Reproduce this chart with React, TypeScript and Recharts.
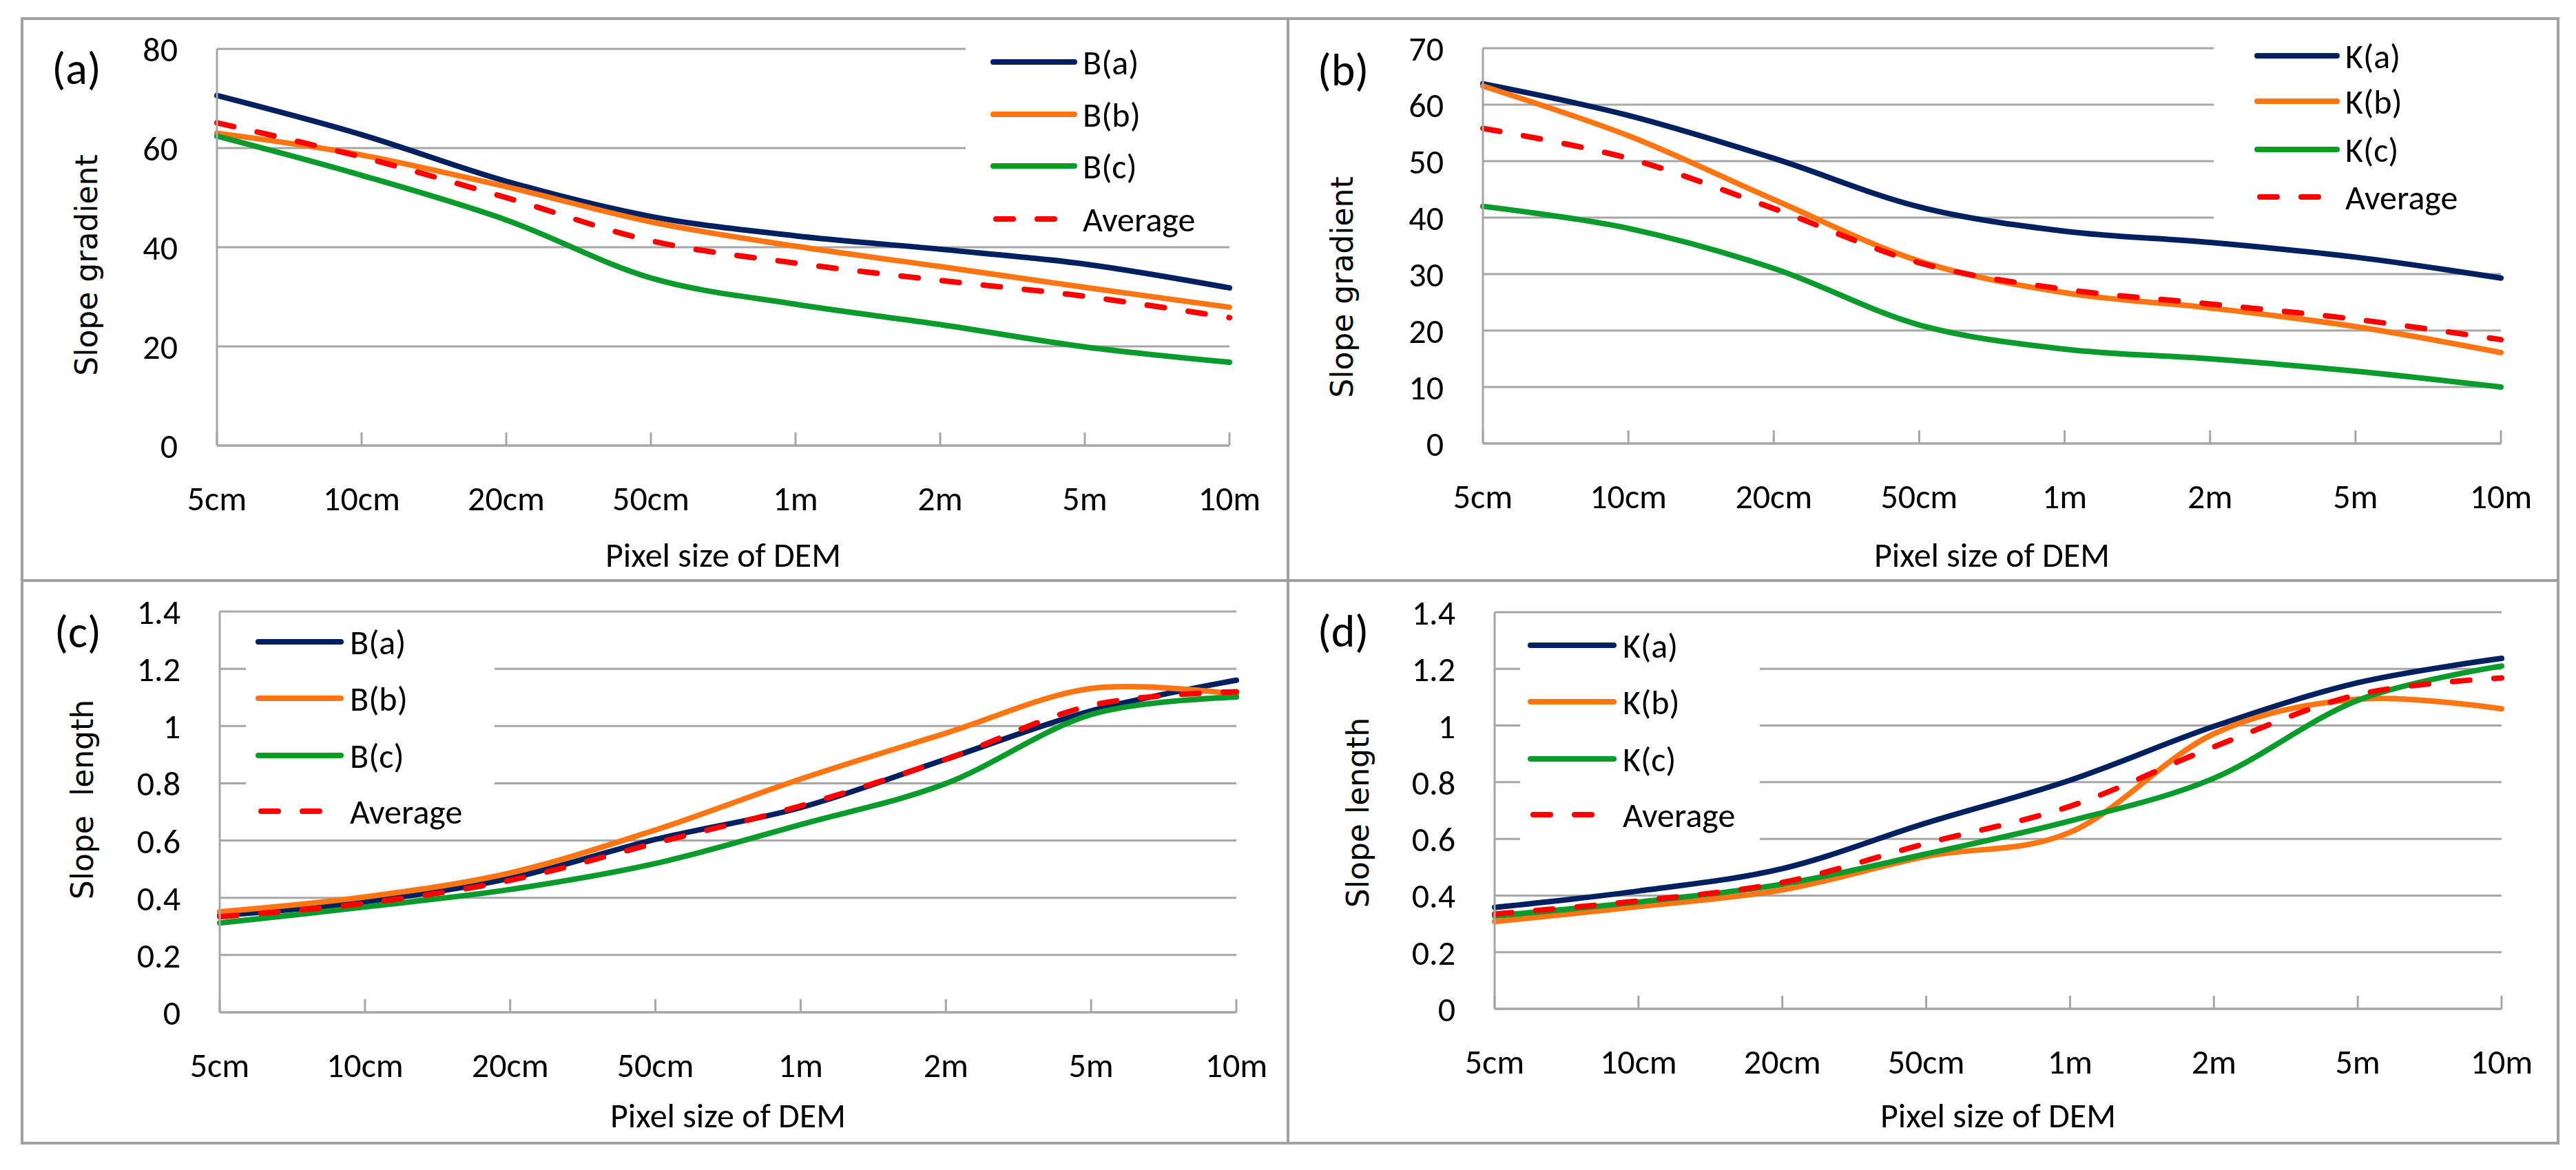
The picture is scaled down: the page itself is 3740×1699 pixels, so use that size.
import React from 'react';
import { LineChart, Line, XAxis, YAxis, CartesianGrid, Legend } from 'recharts';

// pixel sizes of the DEM (x categories)
const PIXEL_SIZES = ['5cm', '10cm', '20cm', '50cm', '1m', '2m', '5m', '10m'];

// (a) slope gradient, site B
const B_GRAD_A = [70.6, 62.7, 53.3, 46.2, 42.3, 39.6, 36.6, 31.8];
const B_GRAD_B = [63.0, 58.6, 52.2, 45.1, 40.2, 36.1, 31.9, 27.9];
const B_GRAD_C = [62.4, 54.5, 45.5, 33.8, 28.5, 24.4, 19.9, 16.8];
const B_GRAD_AVG = [65.1, 58.2, 50.0, 41.3, 36.8, 33.3, 30.1, 25.8];

// (b) slope gradient, site K
const K_GRAD_A = [63.7, 58.1, 50.5, 41.9, 37.6, 35.6, 33.0, 29.3];
const K_GRAD_B = [63.3, 54.5, 43.2, 32.3, 26.7, 24.0, 20.7, 16.1];
const K_GRAD_C = [42.0, 38.1, 31.0, 21.0, 16.7, 15.0, 12.8, 10.0];
const K_GRAD_AVG = [55.8, 50.5, 41.6, 32.0, 27.3, 24.7, 22.0, 18.4];

// (c) slope length, site B
const B_LEN_A = [0.338, 0.386, 0.468, 0.604, 0.715, 0.884, 1.053, 1.16];
const B_LEN_B = [0.351, 0.403, 0.487, 0.637, 0.815, 0.975, 1.131, 1.111];
const B_LEN_C = [0.312, 0.368, 0.429, 0.52, 0.656, 0.799, 1.04, 1.101];
const B_LEN_AVG = [0.334, 0.381, 0.461, 0.591, 0.721, 0.884, 1.072, 1.12];

// (d) slope length, site K
const K_LEN_A = [0.358, 0.416, 0.495, 0.656, 0.807, 0.997, 1.151, 1.237];
const K_LEN_B = [0.308, 0.361, 0.42, 0.538, 0.623, 0.971, 1.093, 1.059];
const K_LEN_C = [0.328, 0.377, 0.44, 0.547, 0.663, 0.814, 1.089, 1.21];
const K_LEN_AVG = [0.335, 0.381, 0.446, 0.584, 0.715, 0.925, 1.109, 1.168];

const GRAD_A_TICKS = [0, 20, 40, 60, 80];
const GRAD_B_TICKS = [0, 10, 20, 30, 40, 50, 60, 70];
const LEN_TICKS = [0, 0.2, 0.4, 0.6, 0.8, 1, 1.2, 1.4];

const NAVY = '#002060';
const ORANGE = '#ff7514';
const GREEN = '#0a9b2c';
const RED = '#ff0000';
const GRID = '#a6a6a6';
const FRAME = '#a0a0a0';
const FONT = 'Carlito, Calibri, Lato, sans-serif';
const TITLE_FONT = '"DejaVu Sans", Verdana, sans-serif';
const FS = 50;
const CAP = 18; // half cap height, to centre text on a y position
const DASH = '25 35';

// Excel-like smoothing (uniform Catmull-Rom / cardinal, tension 0)
const K6 = 1 / 6;
function excelSmooth(context: any) {
  let x0 = NaN, y0 = NaN, x1 = NaN, y1 = NaN, x2 = NaN, y2 = NaN;
  let pt = 0;
  let line = NaN;
  const seg = (x: number, y: number) => {
    context.bezierCurveTo(
      x1 + K6 * (x2 - x0), y1 + K6 * (y2 - y0),
      x2 + K6 * (x1 - x), y2 + K6 * (y1 - y),
      x2, y2
    );
  };
  return {
    areaStart() { line = 0; },
    areaEnd() { line = NaN; },
    lineStart() { x0 = x1 = x2 = y0 = y1 = y2 = NaN; pt = 0; },
    lineEnd() {
      if (pt === 2) context.lineTo(x2, y2);
      else if (pt === 3) seg(x1, y1);
      if (line || (line !== 0 && pt === 1)) context.closePath();
      line = 1 - line;
    },
    point(x: number, y: number) {
      x = +x; y = +y;
      if (pt === 0) {
        pt = 1;
        if (line) context.lineTo(x, y); else context.moveTo(x, y);
      } else if (pt === 1) {
        pt = 2; x1 = x; y1 = y;
      } else {
        if (pt === 2) pt = 3;
        seg(x, y);
      }
      x0 = x1; x1 = x2; x2 = x;
      y0 = y1; y1 = y2; y2 = y;
    },
  };
}

interface Series { key: string; name: string; color: string; dashed?: boolean; values: number[] }

const mk = (p: string, a: number[], b: number[], c: number[], avg: number[]): Series[] => [
  { key: 'a', name: `${p}(a)`, color: NAVY, values: a },
  { key: 'b', name: `${p}(b)`, color: ORANGE, values: b },
  { key: 'c', name: `${p}(c)`, color: GREEN, values: c },
  { key: 'avg', name: 'Average', color: RED, dashed: true, values: avg },
];

interface Panel {
  id: string;
  cell: { x: number; y: number; w: number; h: number };
  plot: { l: number; r: number; t: number; b: number };
  ticks: number[];
  yTitle: { x: number; y: number; text: string };
  letter: { x: number; y: number };
  xTitleY: number;
  legend: { l: number; t: number; w: number; h: number; x1: number; x2: number; tx: number; rows: number[] };
  series: Series[];
}

const PANELS: Panel[] = [
  {
    id: '(a)',
    cell: { x: 34, y: 29, w: 1834, h: 812 },
    plot: { l: 315, r: 1785, t: 71, b: 647 },
    ticks: GRAD_A_TICKS,
    yTitle: { x: 125, y: 385, text: 'Slope gradient' },
    letter: { x: 111, y: 98 },
    xTitleY: 805,
    legend: { l: 1402, t: 40, w: 398, h: 310, x1: 1442, x2: 1560, tx: 1572, rows: [90, 166, 241, 318] },
    series: mk('B', B_GRAD_A, B_GRAD_B, B_GRAD_C, B_GRAD_AVG),
  },
  {
    id: '(b)',
    cell: { x: 1872, y: 29, w: 1840, h: 812 },
    plot: { l: 2153, r: 3631, t: 70, b: 644 },
    ticks: GRAD_B_TICKS,
    yTitle: { x: 1948, y: 417, text: 'Slope gradient' },
    letter: { x: 1950, y: 100 },
    xTitleY: 805,
    legend: { l: 3214, t: 40, w: 430, h: 300, x1: 3277, x2: 3393, tx: 3405, rows: [81, 147, 217, 286] },
    series: mk('K', K_GRAD_A, K_GRAD_B, K_GRAD_C, K_GRAD_AVG),
  },
  {
    id: '(c)',
    cell: { x: 34, y: 845, w: 1834, h: 813 },
    plot: { l: 319, r: 1795, t: 888, b: 1470 },
    ticks: LEN_TICKS,
    yTitle: { x: 119, y: 1161, text: 'Slope  length' },
    letter: { x: 113, y: 916 },
    xTitleY: 1619,
    legend: { l: 357, t: 895, w: 361, h: 317, x1: 375, x2: 495, tx: 508, rows: [932, 1014, 1097, 1178] },
    series: mk('B', B_LEN_A, B_LEN_B, B_LEN_C, B_LEN_AVG),
  },
  {
    id: '(d)',
    cell: { x: 1872, y: 845, w: 1840, h: 813 },
    plot: { l: 2170, r: 3632, t: 889, b: 1465 },
    ticks: LEN_TICKS,
    yTitle: { x: 1971, y: 1180, text: 'Slope length' },
    letter: { x: 1950, y: 915 },
    xTitleY: 1619,
    legend: { l: 2207, t: 900, w: 348, h: 330, x1: 2222, x2: 2343, tx: 2356, rows: [937, 1019, 1102, 1183] },
    series: mk('K', K_LEN_A, K_LEN_B, K_LEN_C, K_LEN_AVG),
  },
];

const XTick = (props: any) => {
  const { x, y, payload } = props;
  return (
    <g>
      <line x1={x} x2={x} y1={y - 19} y2={y} stroke={GRID} strokeWidth={3} />
      <text x={x} y={y + 94} textAnchor="middle" fontFamily={FONT} fontSize={FS} fill="#000">
        {payload.value}
      </text>
    </g>
  );
};

const YTick = (props: any) => {
  const { x, y, payload } = props;
  return (
    <text x={x - 57} y={y + CAP} textAnchor="end" fontFamily={FONT} fontSize={FS} fill="#000">
      {payload.value}
    </text>
  );
};

const XAXIS_H = 60;

const PanelChart: React.FC<{ p: Panel }> = ({ p }) => {
  const { cell, plot, legend } = p;
  const rows = PIXEL_SIZES.map((size, i) => {
    const row: Record<string, number | string> = { size };
    p.series.forEach((s) => { row[s.key] = s.values[i]; });
    return row;
  });
  const margin = {
    top: plot.t - cell.y,
    right: cell.x + cell.w - plot.r,
    bottom: cell.y + cell.h - plot.b - XAXIS_H,
    left: 0,
  };
  const yTitleX = p.yTitle.x - cell.x;
  const yTitleY = p.yTitle.y - cell.y;

  const legendContent = () => (
    <svg width={legend.w} height={legend.h} style={{ display: 'block', overflow: 'visible' }}>
      {p.series.map((s, i) => {
        const yy = legend.rows[i] - legend.t;
        const lx = legend.x1 - legend.l;
        return (
          <g key={s.key}>
            {s.dashed ? (
              <line x1={lx + 4} x2={lx + 89} y1={yy} y2={yy} stroke={s.color} strokeWidth={8}
                strokeLinecap="round" strokeDasharray={DASH} />
            ) : (
              <line x1={lx} x2={legend.x2 - legend.l} y1={yy} y2={yy} stroke={s.color} strokeWidth={8}
                strokeLinecap="round" />
            )}
            <text x={legend.tx - legend.l} y={yy + CAP} fontFamily={FONT} fontSize={FS} fill="#000">
              {s.name}
            </text>
          </g>
        );
      })}
    </svg>
  );

  return (
    <div style={{ position: 'absolute', left: cell.x, top: cell.y }}>
      <LineChart width={cell.w} height={cell.h} data={rows} margin={margin}>
        <CartesianGrid horizontal vertical={false} stroke={GRID} strokeWidth={3} />
        <XAxis
          dataKey="size"
          type="category"
          interval={0}
          height={XAXIS_H}
          axisLine={{ stroke: GRID, strokeWidth: 3 }}
          tickLine={false}
          tickSize={0}
          tickMargin={0}
          tick={<XTick />}
          label={() => (
            <text
              x={(plot.l + plot.r) / 2 - cell.x}
              y={p.xTitleY - cell.y + CAP}
              textAnchor="middle"
              fontFamily={FONT}
              fontSize={FS}
              fill="#000"
            >
              Pixel size of DEM
            </text>
          )}
        />
        <YAxis
          type="number"
          domain={[p.ticks[0], p.ticks[p.ticks.length - 1]]}
          ticks={p.ticks}
          interval={0}
          width={plot.l - cell.x}
          axisLine={{ stroke: GRID, strokeWidth: 3 }}
          tickLine={false}
          tickSize={0}
          tickMargin={0}
          tick={<YTick />}
          label={() => (
            <g>
              <text
                x={yTitleX}
                y={yTitleY}
                transform={`rotate(-90 ${yTitleX} ${yTitleY})`}
                textAnchor="middle"
                dominantBaseline="central"
                fontFamily={TITLE_FONT}
                fontSize={44}
                fill="#000"
                style={{ whiteSpace: 'pre' }}
              >
                {p.yTitle.text}
              </text>
              <text
                x={p.letter.x - cell.x}
                y={p.letter.y - cell.y + 24}
                textAnchor="middle"
                fontFamily={FONT}
                fontSize={66}
                fill="#000"
              >
                {p.id}
              </text>
            </g>
          )}
        />
        <Legend
          layout="vertical"
          verticalAlign="middle"
          align="center"
          wrapperStyle={{
            left: legend.l - cell.x,
            top: legend.t - cell.y,
            width: legend.w,
            height: legend.h,
            background: '#fff',
            margin: 0,
            padding: 0,
            overflow: 'visible',
          }}
          content={legendContent}
        />
        {p.series.map((s) => (
          <Line
            key={s.key}
            dataKey={s.key}
            name={s.name}
            type={excelSmooth as any}
            stroke={s.color}
            strokeWidth={8}
            strokeLinecap="round"
            strokeDasharray={s.dashed ? DASH : undefined}
            dot={false}
            activeDot={false}
            isAnimationActive={false}
          />
        ))}
      </LineChart>
    </div>
  );
};

const App: React.FC = () => (
  <div style={{ position: 'absolute', left: 0, top: 0, width: 3740, height: 1699, background: '#fff', overflow: 'hidden' }}>
    {PANELS.map((p) => (
      <PanelChart key={p.id} p={p} />
    ))}
    {/* frame and dividers */}
    <div style={{ position: 'absolute', left: 30, top: 25, width: 3686, height: 1637, border: `4px solid ${FRAME}`, boxSizing: 'border-box', pointerEvents: 'none' }} />
    <div style={{ position: 'absolute', left: 1868, top: 25, width: 4, height: 1637, background: FRAME }} />
    <div style={{ position: 'absolute', left: 30, top: 841, width: 3686, height: 4, background: FRAME }} />
  </div>
);

export default App;
